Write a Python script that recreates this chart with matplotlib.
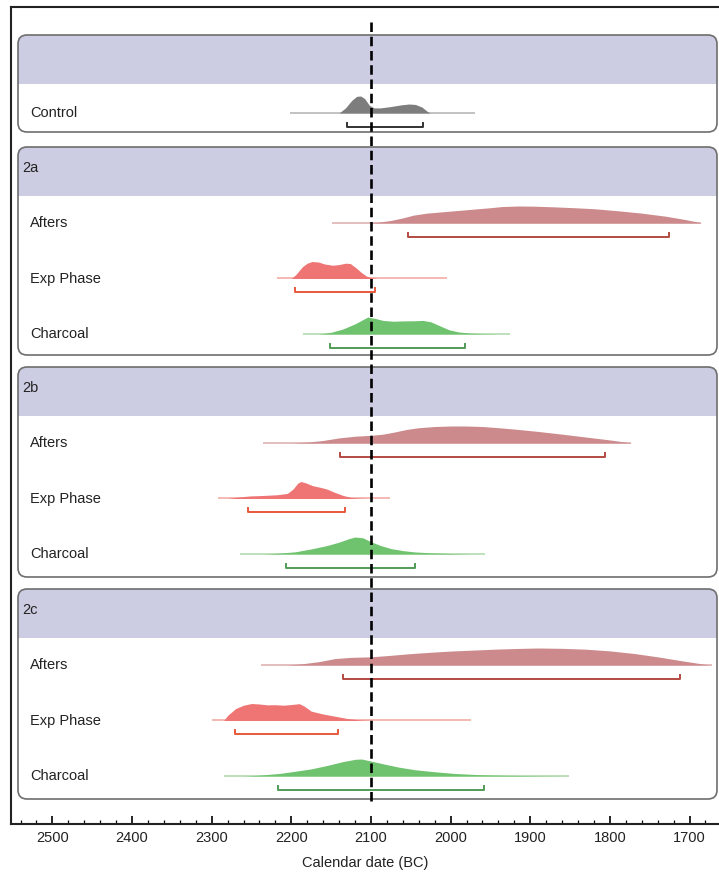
import numpy as np
import matplotlib.pyplot as plt
from matplotlib.patches import FancyBboxPatch, Rectangle
from matplotlib.ticker import MultipleLocator

plt.rcParams['font.family'] = ['Liberation Sans', 'DejaVu Sans']

# calendar range shown (BC, runs right-to-left)
x_old, x_young = 2552, 1663

# modelled date distributions: years BC and relative probability
control_yr = [2140, 2132, 2124, 2118, 2113, 2108, 2102, 2096, 2088, 2075, 2062, 2052, 2044, 2036, 2030, 2026]
control_p = [0, 0.3, 0.75, 0.98, 1.0, 0.85, 0.45, 0.3, 0.3, 0.38, 0.48, 0.53, 0.5, 0.35, 0.12, 0]
control_span = [2202, 1969]
control_range = [2130, 2035]

afters_2a_yr = [2105, 2090, 2075, 2060, 2047, 2030, 2010, 1990, 1970, 1950, 1935, 1915, 1895, 1870, 1845,
                1820, 1790, 1760, 1730, 1705, 1686]
afters_2a_p = [0, 0.05, 0.15, 0.3, 0.46, 0.58, 0.66, 0.74, 0.82, 0.9, 0.97, 1.0, 0.99, 0.95, 0.9,
               0.84, 0.72, 0.58, 0.4, 0.2, 0.02]
afters_2a_span = [2149, 1686]
afters_2a_range = [2053, 1726]

exp_2a_yr = [2200, 2194, 2186, 2180, 2174, 2166, 2158, 2148, 2140, 2132, 2126, 2118, 2112, 2106, 2100, 2092]
exp_2a_p = [0, 0.25, 0.7, 0.9, 1.0, 0.97, 0.85, 0.78, 0.82, 0.9, 0.88, 0.6, 0.35, 0.15, 0.05, 0]
exp_2a_span = [2218, 2004]
exp_2a_range = [2196, 2095]

char_2a_yr = [2165, 2150, 2135, 2120, 2110, 2104, 2095, 2085, 2072, 2060, 2045, 2035, 2025, 2012, 2002,
              1990, 1975, 1960, 1940]
char_2a_p = [0, 0.1, 0.3, 0.6, 0.85, 1.0, 0.92, 0.8, 0.75, 0.77, 0.78, 0.8, 0.72, 0.45, 0.25,
             0.12, 0.05, 0.02, 0]
char_2a_span = [2185, 1925]
char_2a_range = [2152, 1982]

afters_2b_yr = [2200, 2180, 2160, 2140, 2120, 2100, 2085, 2070, 2055, 2040, 2020, 2000, 1980, 1960, 1940,
                1920, 1890, 1860, 1830, 1800, 1780, 1772]
afters_2b_p = [0, 0.05, 0.15, 0.3, 0.4, 0.45, 0.52, 0.65, 0.8, 0.9, 0.97, 1.0, 1.0, 0.97, 0.9,
               0.82, 0.68, 0.52, 0.35, 0.18, 0.05, 0]
afters_2b_span = [2236, 1774]
afters_2b_range = [2139, 1806]

exp_2b_yr = [2280, 2268, 2252, 2235, 2218, 2205, 2198, 2192, 2188, 2182, 2173, 2163, 2155, 2145, 2135,
             2125, 2115, 2105]
exp_2b_p = [0, 0.08, 0.15, 0.18, 0.22, 0.3, 0.55, 0.9, 1.0, 0.92, 0.75, 0.65, 0.55, 0.35, 0.18,
            0.06, 0.02, 0]
exp_2b_span = [2292, 2076]
exp_2b_range = [2255, 2133]

char_2b_yr = [2235, 2215, 2195, 2175, 2155, 2140, 2128, 2120, 2110, 2100, 2088, 2075, 2060, 2045, 2025,
              2000, 1975]
char_2b_p = [0, 0.05, 0.13, 0.3, 0.5, 0.7, 0.9, 1.0, 0.95, 0.72, 0.5, 0.32, 0.2, 0.12, 0.07,
             0.03, 0]
char_2b_span = [2265, 1957]
char_2b_range = [2207, 2045]

afters_2c_yr = [2205, 2185, 2165, 2145, 2125, 2100, 2075, 2050, 2025, 2000, 1970, 1940, 1910, 1890, 1860,
                1830, 1800, 1770, 1740, 1710, 1685, 1674]
afters_2c_p = [0, 0.08, 0.2, 0.38, 0.45, 0.48, 0.57, 0.67, 0.75, 0.82, 0.88, 0.94, 0.98, 1.0, 0.98,
               0.93, 0.83, 0.68, 0.48, 0.25, 0.07, 0]
afters_2c_span = [2238, 1672]
afters_2c_range = [2135, 1712]

exp_2c_yr = [2285, 2280, 2270, 2260, 2250, 2240, 2230, 2220, 2210, 2200, 2190, 2184, 2175, 2160, 2145,
             2130, 2115, 2100]
exp_2c_p = [0, 0.3, 0.7, 0.9, 1.0, 0.97, 0.92, 0.93, 0.9, 0.94, 0.99, 0.85, 0.55, 0.38, 0.25,
            0.12, 0.04, 0]
exp_2c_span = [2300, 1975]
exp_2c_range = [2271, 2141]

char_2c_yr = [2260, 2240, 2215, 2195, 2175, 2155, 2135, 2120, 2112, 2100, 2085, 2065, 2045, 2020, 1995,
              1965, 1930, 1880, 1851]
char_2c_p = [0, 0.05, 0.15, 0.28, 0.42, 0.62, 0.85, 0.98, 1.0, 0.88, 0.72, 0.52, 0.37, 0.25, 0.15,
             0.08, 0.04, 0.01, 0]
char_2c_span = [2284, 1851]
char_2c_range = [2217, 1958]

boundary = 2100

# fill, thin line, bracket colours per sample type
styles = {
    'Control': ('#7d7d7d', '#bdbdbd', '#333333'),
    'Afters': ('#cc8a8c', '#e2b9ba', '#b24a42'),
    'Exp Phase': ('#ef7575', '#f5b3ab', '#e8593b'),
    'Charcoal': ('#6fc36f', '#b8ddb3', '#519b57'),
}

groups = [
    ('', 35, 97, [('Control', control_yr, control_p, control_span, control_range)]),
    ('2a', 147, 208, [('Afters', afters_2a_yr, afters_2a_p, afters_2a_span, afters_2a_range),
                      ('Exp Phase', exp_2a_yr, exp_2a_p, exp_2a_span, exp_2a_range),
                      ('Charcoal', char_2a_yr, char_2a_p, char_2a_span, char_2a_range)]),
    ('2b', 367, 210, [('Afters', afters_2b_yr, afters_2b_p, afters_2b_span, afters_2b_range),
                      ('Exp Phase', exp_2b_yr, exp_2b_p, exp_2b_span, exp_2b_range),
                      ('Charcoal', char_2b_yr, char_2b_p, char_2b_span, char_2b_range)]),
    ('2c', 589, 210, [('Afters', afters_2c_yr, afters_2c_p, afters_2c_span, afters_2c_range),
                      ('Exp Phase', exp_2c_yr, exp_2c_p, exp_2c_span, exp_2c_range),
                      ('Charcoal', char_2c_yr, char_2c_p, char_2c_span, char_2c_range)]),
]

W, H = 719, 876
fig = plt.figure(figsize=(W / 100, H / 100), dpi=100)

# background layer in pixel units for the group panels
bg = fig.add_axes([0, 0, 1, 1], zorder=0)
bg.set_xlim(0, W)
bg.set_ylim(H, 0)
bg.axis('off')

ax_l, ax_r, ax_t, ax_b = 11, 719, 7, 824
ax = fig.add_axes([ax_l / W, 1 - ax_b / H, (ax_r - ax_l) / W, (ax_b - ax_t) / H], zorder=1)
ax.patch.set_alpha(0)
ax.set_xlim(x_old, x_young)
ax.set_ylim(ax_b, ax_t)  # y measured in pixels from the top

ppy = (ax_r - ax_l) / (x_old - x_young)  # pixels per year


def yr(px):
    return x_old - (px - ax_l) / ppy


box_x0, box_x1 = 18, 717
head_h = 49
peak_h = 17

for name, top, height, rows in groups:
    style = 'round,pad=0,rounding_size=9'
    bg.add_patch(FancyBboxPatch((box_x0, top), box_x1 - box_x0, height, boxstyle=style,
                                facecolor='white', edgecolor='none', zorder=1))
    head = FancyBboxPatch((box_x0, top), box_x1 - box_x0, height, boxstyle=style,
                          facecolor='#cccde3', edgecolor='none', zorder=2)
    bg.add_patch(head)
    head.set_clip_path(Rectangle((box_x0, top), box_x1 - box_x0, head_h, transform=bg.transData))
    bg.add_patch(FancyBboxPatch((box_x0, top), box_x1 - box_x0, height, boxstyle=style,
                                facecolor='none', edgecolor='#6e6e6e', lw=1.2, zorder=3))
    if name:
        bg.text(22, top + 21, name, fontsize=10.5, va='center', ha='left', color='#222222')

    base0 = top + (78 if name == '' else 76)
    for i, (label, yrs, p, span, rng) in enumerate(rows):
        y = base0 + i * 55.5
        fill_c, line_c, br_c = styles[label]
        ax.plot(span, [y, y], color=line_c, lw=1.3, zorder=4, solid_capstyle='butt')
        ax.fill_between(yrs, y, y - peak_h * np.array(p), color=fill_c, lw=0, zorder=4)
        yb = y + 14
        ax.plot([rng[0], rng[0], rng[1], rng[1]], [yb - 4, yb, yb, yb - 4],
                color=br_c, lw=1.4, zorder=4)
        bg.text(30, y, label, fontsize=10.5, va='center', ha='left', color='#222222')

ax.plot([boundary, boundary], [22, 805], color='black', lw=1.9,
        linestyle=(0, (3.6, 1.8)), zorder=6)

ax.xaxis.set_major_locator(MultipleLocator(100))
ax.xaxis.set_minor_locator(MultipleLocator(20))
ax.tick_params(axis='x', which='major', direction='in', length=6, width=1.2,
               labelsize=10.5, pad=5, labelcolor='#222222')
ax.tick_params(axis='x', which='minor', direction='in', length=3, width=0.9)
ax.set_yticks([])
ax.spines['right'].set_visible(False)
for s in ('left', 'top', 'bottom'):
    ax.spines[s].set_linewidth(1.5)
    ax.spines[s].set_color('#222222')
ax.set_xlabel('Calendar date (BC)', fontsize=10.5, labelpad=8, color='#222222')

fig.savefig('out.png', dpi=100)
